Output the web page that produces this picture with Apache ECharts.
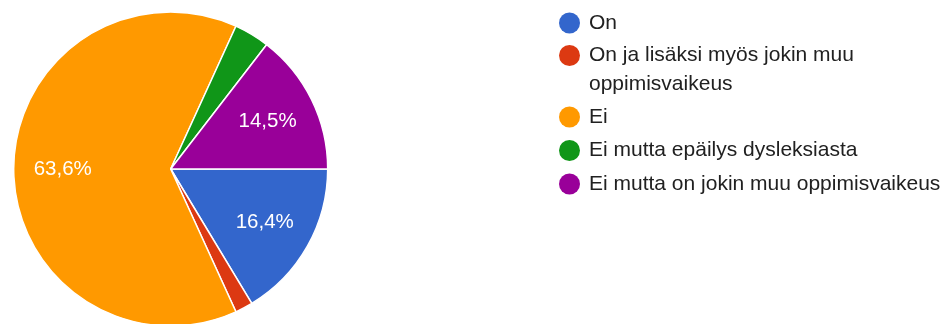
<!DOCTYPE html>
<html>
<head>
<meta charset="utf-8">
<script src="https://cdn.jsdelivr.net/npm/echarts@6/dist/echarts.min.js"></script>
<style>
  html, body { margin: 0; padding: 0; background: #fff; }
  #chart { width: 948px; height: 324px; }
</style>
</head>
<body>
<div id="chart"></div>
<script>
// Answer categories and the number of responses for each
const categories = [
  'On',
  'On ja lisäksi myös jokin muu oppimisvaikeus',
  'Ei',
  'Ei mutta epäilys dysleksiasta',
  'Ei mutta on jokin muu oppimisvaikeus'
];
const counts = [9, 1, 35, 2, 8];
const colors = ['#3366cc', '#dc3912', '#ff9900', '#109618', '#990099'];

// Slices smaller than this share (in %) get no inside label
const LABEL_MIN_PERCENT = 5;

const total = counts.reduce((a, b) => a + b, 0);
const pct = v => Math.round(v / total * 1000) / 10;
const fmtPct = v => pct(v).toFixed(1).replace('.', ',') + '%';

const sliceData = categories.map((name, i) => ({
  name: name,
  value: counts[i],
  itemStyle: { color: colors[i] }
}));

const labelData = categories.map((name, i) => ({
  name: name,
  value: counts[i],
  label: { show: pct(counts[i]) >= LABEL_MIN_PERCENT }
}));

const legendBase = {
  orient: 'vertical',
  left: 559,
  padding: 0,
  itemWidth: 21,
  itemHeight: 21,
  icon: 'circle',
  itemStyle: { borderWidth: 0 },
  textStyle: {
    fontFamily: 'Arial, "Liberation Sans", sans-serif',
    fontSize: 21,
    color: '#212121',
    lineHeight: 29,
    padding: [0, 0, 0, 4]
  }
};

const chart = echarts.init(document.getElementById('chart'), null, { renderer: 'canvas' });

chart.setOption({
  animation: false,
  backgroundColor: '#ffffff',
  color: colors,
  legend: [
    Object.assign({}, legendBase, {
      top: 8.5,
      data: [categories[0]]
    }),
    // the wrapped answer: an empty leading line keeps the marker beside
    // the first line of text
    Object.assign({}, legendBase, {
      top: 12,
      data: [categories[1]],
      formatter: name => '\n' + name,
      textStyle: Object.assign({}, legendBase.textStyle, { width: 290, overflow: 'break' })
    }),
    Object.assign({}, legendBase, {
      top: 102.5,
      itemGap: 4.5,
      data: categories.slice(2)
    })
  ],
  series: [
    {
      type: 'pie',
      center: [170.7, 169],
      radius: [0, 157],
      startAngle: 0,
      clockwise: true,
      data: sliceData,
      label: { show: false },
      labelLine: { show: false },
      itemStyle: { borderColor: '#ffffff', borderWidth: 1.5 },
      emphasis: { scale: false }
    },
    {
      // transparent ring that carries the percentage labels
      type: 'pie',
      center: [170.7, 169],
      radius: [53, 157],
      startAngle: 0,
      clockwise: true,
      silent: true,
      legendHoverLink: false,
      data: labelData,
      itemStyle: { color: 'rgba(0,0,0,0)', borderWidth: 0 },
      labelLine: { show: false },
      label: {
        position: 'inside',
        color: '#ffffff',
        fontFamily: 'Arial, "Liberation Sans", sans-serif',
        fontSize: 20.5,
        formatter: p => fmtPct(p.value)
      }
    }
  ]
});
</script>
</body>
</html>
